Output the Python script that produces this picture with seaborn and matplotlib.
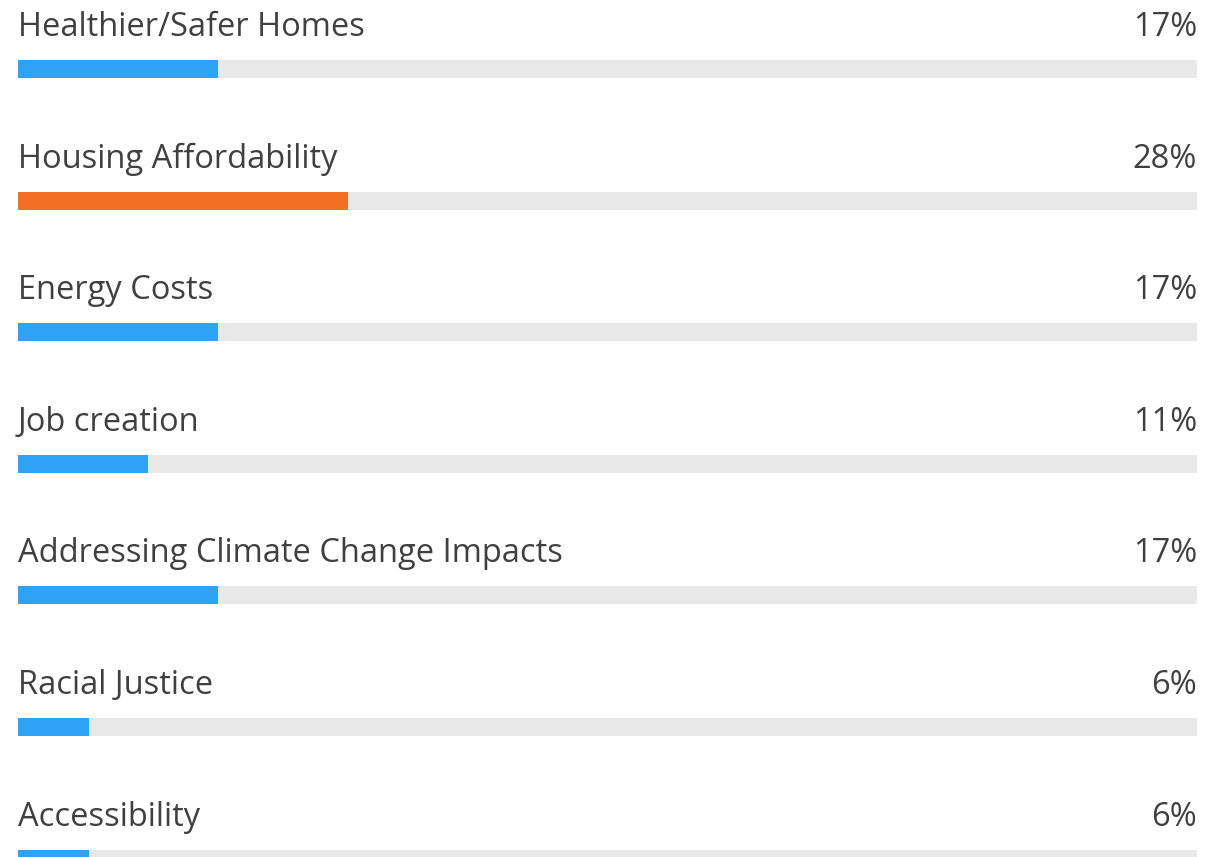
import matplotlib
matplotlib.use("Agg")
import matplotlib.pyplot as plt
import pandas as pd
import seaborn as sns

categories = [
    "Healthier/Safer Homes",
    "Housing Affordability",
    "Energy Costs",
    "Job creation",
    "Addressing Climate Change Impacts",
    "Racial Justice",
    "Accessibility",
]
percent = [17, 28, 17, 11, 17, 6, 6]
bar_colors = ["#2ea3f5", "#f36f21", "#2ea3f5", "#2ea3f5", "#2ea3f5", "#2ea3f5", "#2ea3f5"]

sns.set_style("white")
plt.rcParams["font.family"] = ["Open Sans", "DejaVu Sans"]

df = pd.DataFrame({"label": categories, "share": [p / 100 for p in percent], "track": 1.0})

fig = plt.figure(figsize=(12.05, 8.57), dpi=100)
ax = fig.add_axes([0, 0, 1, 1])

row_px = 131.6
bar_h = 18 / row_px

# grey track behind every bar
sns.barplot(data=df, x="track", y="label", color="#e8e8e8", width=bar_h,
            ax=ax, orient="h", saturation=1, linewidth=0)
sns.barplot(data=df, x="share", y="label", hue="label", palette=bar_colors,
            width=bar_h, ax=ax, orient="h", saturation=1, legend=False, linewidth=0)

for i, (name, p) in enumerate(zip(categories, percent)):
    ax.text(0, i - 33 / row_px, name, ha="left", va="baseline",
            fontsize=23.5, color="#404040")
    ax.text(1, i - 33 / row_px, f"{p}%", ha="right", va="baseline",
            fontsize=23.5, color="#404040")

ax.set_xlim(-18 / 1179, 1 + 8 / 1179)
ax.set_ylim((857 - 69) / row_px, -69 / row_px)
ax.set_axis_off()

fig.savefig("out.png", dpi=100, facecolor="white")
